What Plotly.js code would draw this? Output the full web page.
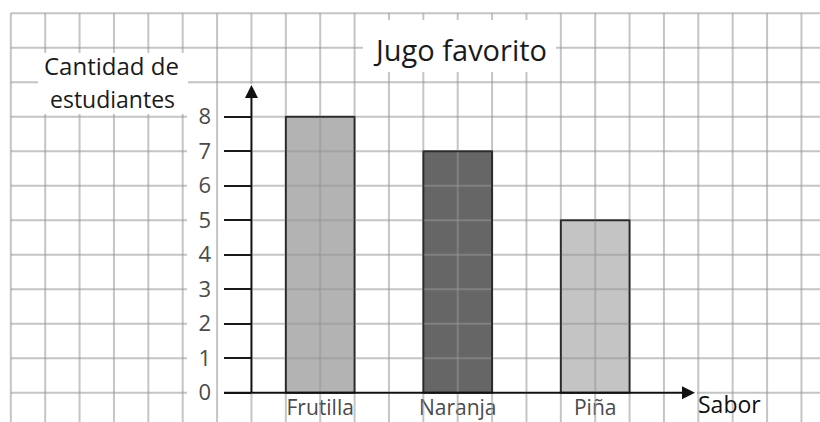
<!DOCTYPE html>
<html>
<head>
<meta charset="utf-8">
<script src="https://cdn.plot.ly/plotly-3.0.1.min.js"></script>
<style>html,body{margin:0;padding:0;background:#fff;}#chart{width:820px;height:422px;}</style>
</head>
<body>
<div id="chart"></div>
<script>
// ---- data ----
const categories = ['Frutilla', 'Naranja', 'Piña'];
const values = [8, 7, 5];
const barColors = ['#b3b3b3', '#666666', '#c4c4c4'];
const yTicks = [0, 1, 2, 3, 4, 5, 6, 7, 8];
const chartTitle = 'Jugo favorito';
const yTitleLines = ['Cantidad de', 'estudiantes'];
const xTitle = 'Sabor';

// ---- geometry helpers (pixel <-> axis units) ----
const W = 820, H = 422;
const PX_PER_CAT = 137.5, X0PX = 320.2;
const PX_PER_Y = 34.5, Y0PX = 392.7;
const px2x = p => (p - X0PX) / PX_PER_CAT;
const py2y = p => (Y0PX - p) / PX_PER_Y;
const dx1 = 1 / PX_PER_CAT, dy1 = 1 / PX_PER_Y;

const yAxisX = -0.5;
const axisLeftX = px2x(224);
const arrowTipX = px2x(695);
const arrowTipY = py2y(85);
const labelGapLeft = px2x(187);
const gridX0 = -2.25, gridStep = 0.25, gridCols = 24, gridYTop = 11;
const xEnd = px2x(W) + 0.1, yBottom = py2y(H) - 0.1;

function segs(lo, hi, blocks) {
  blocks = blocks.map(b => [Math.max(lo, b[0]), Math.min(hi, b[1])])
                 .filter(b => b[1] > b[0]).sort((a, b) => a[0] - b[0]);
  const out = []; let cur = lo;
  for (const b of blocks) { if (b[0] > cur) out.push([cur, b[0]]); cur = Math.max(cur, b[1]); }
  if (cur < hi) out.push([cur, hi]);
  return out;
}

const gridColor = 'rgba(150,150,150,0.55)';
const shapes = [];
// horizontal grid lines
for (let k = 0; k <= gridYTop; k++) {
  const blocks = [];
  if (yTicks.includes(k)) blocks.push([labelGapLeft, yAxisX + dx1]);
  if (k === 0) blocks.push([labelGapLeft, arrowTipX + 2 * dx1]);
  values.forEach((v, i) => {
    if (Math.abs(v - k) < 1e-9) blocks.push([i - 0.25 - dx1, i + 0.25 + dx1]);
    else if (k > 0 && k < v) {
      blocks.push([i - 0.25 - dx1, i - 0.25 + dx1]);
      blocks.push([i + 0.25 - dx1, i + 0.25 + dx1]);
    }
  });
  segs(gridX0, xEnd, blocks).forEach(s => shapes.push({
    type: 'line', xref: 'x', yref: 'y', x0: s[0], x1: s[1], y0: k, y1: k,
    line: {color: gridColor, width: 2}, layer: 'above'
  }));
}
// vertical grid lines
for (let j = 0; j < gridCols; j++) {
  const x = gridX0 + gridStep * j;
  const blocks = [];
  if (Math.abs(x - yAxisX) < 1e-9) blocks.push([-dy1, arrowTipY + dy1]);
  else if (x >= axisLeftX && x <= arrowTipX) blocks.push([-dy1, dy1]);
  values.forEach((v, i) => {
    const l = i - 0.25, r = i + 0.25;
    if (Math.abs(x - l) < 1e-9 || Math.abs(x - r) < 1e-9) blocks.push([-dy1, v + dy1]);
    else if (x > l && x < r) blocks.push([v - dy1, v + dy1]);
  });
  segs(yBottom, gridYTop, blocks).forEach(s => shapes.push({
    type: 'line', xref: 'x', yref: 'y', x0: x, x1: x, y0: s[0], y1: s[1],
    line: {color: gridColor, width: 2}, layer: 'above'
  }));
}
// white boxes behind the titles
function whiteBox(x0, x1, y0, y1) {
  shapes.push({type: 'rect', xref: 'paper', yref: 'paper',
    x0: x0 / W, x1: x1 / W, y0: 1 - y1 / H, y1: 1 - y0 / H,
    fillcolor: '#ffffff', line: {width: 0}, layer: 'above'});
}
whiteBox(363, 556, 20, 72);
whiteBox(38, 188, 53, 114);

const FONT = '"Open Sans", "Noto Sans", sans-serif';

const trace = {
  type: 'bar',
  x: categories,
  y: values,
  width: 0.5,
  marker: {color: barColors, line: {color: '#2b2b2b', width: 2}},
  hoverinfo: 'none'
};

const annotations = [
  {xref: 'paper', yref: 'paper', x: 111 / W, y: 1 - 66 / H, text: yTitleLines[0],
   showarrow: false, xanchor: 'center', yanchor: 'middle', font: {family: FONT, size: 24, weight: 500, color: '#1a1a1a'}},
  {xref: 'paper', yref: 'paper', x: 112 / W, y: 1 - 99 / H, text: yTitleLines[1],
   showarrow: false, xanchor: 'center', yanchor: 'middle', font: {family: FONT, size: 23, weight: 500, color: '#1a1a1a'}},
  {xref: 'paper', yref: 'paper', x: 729.5 / W, y: 0.002, text: xTitle, borderpad: 0,
   showarrow: false, xanchor: 'center', yanchor: 'bottom', font: {family: FONT, size: 23, weight: 500, color: '#111111'}},
  // y axis line with arrow
  {xref: 'x', yref: 'y', axref: 'x', ayref: 'y', x: yAxisX, y: arrowTipY, ax: yAxisX, ay: -0.05,
   text: '', showarrow: true, arrowhead: 2, arrowsize: 1.3, arrowwidth: 2, arrowcolor: '#111111'},
  // x axis line with arrow
  {xref: 'x', yref: 'y', axref: 'x', ayref: 'y', x: arrowTipX, y: 0, ax: axisLeftX - 0.01, ay: 0,
   text: '', showarrow: true, arrowhead: 2, arrowsize: 1.3, arrowwidth: 2, arrowcolor: '#111111'}
];

const layout = {
  width: W, height: H,
  margin: {l: 0, r: 0, t: 0, b: 0, pad: 0},
  paper_bgcolor: '#ffffff', plot_bgcolor: '#ffffff',
  showlegend: false,
  font: {family: FONT},
  title: {text: chartTitle, x: 461.5 / W, xanchor: 'center', y: 1 - 51 / H, yanchor: 'middle',
          font: {family: FONT, size: 29, weight: 500, color: '#1a1a1a'}},
  xaxis: {
    type: 'category', categoryorder: 'array', categoryarray: categories,
    range: [px2x(0), px2x(W)], anchor: 'free', position: (H - Y0PX) / H,
    showgrid: false, zeroline: false, showline: false, ticks: '',
    tickfont: {family: FONT, size: 21, color: '#4a4a4a'}, ticklabelstandoff: 0, fixedrange: true
  },
  yaxis: {
    range: [py2y(H), py2y(0)], anchor: 'free', position: (X0PX + yAxisX * PX_PER_CAT) / W,
    showgrid: false, zeroline: false, showline: false,
    tickmode: 'array', tickvals: yTicks, ticktext: yTicks.map(String),
    ticks: 'outside', ticklen: 27, tickwidth: 2, tickcolor: '#1a1a1a',
    tickfont: {family: FONT, size: 22, color: '#4a4a4a'}, ticklabelstandoff: 9, fixedrange: true
  },
  shapes: shapes,
  annotations: annotations
};

Plotly.newPlot('chart', [trace], layout, {staticPlot: true, displayModeBar: false});
</script>
</body>
</html>
